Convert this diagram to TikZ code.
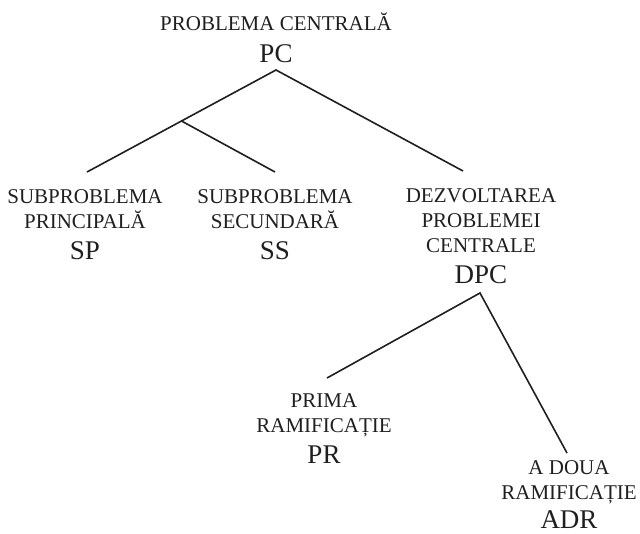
\documentclass[tikz,border=0pt]{standalone}
\usepackage{fontspec}
\setmainfont{Liberation Serif}
\usetikzlibrary{calc}
\begin{document}
\begin{tikzpicture}[x=1pt,y=-1pt,
  lbl/.style={align=center,anchor=north,inner sep=0pt,outer sep=0pt,
    text=black!88,font=\fontsize{21}{25}\selectfont},
  conn/.style={line width=1.6pt,draw=black!88}]
\newcommand\fstrut{\rule{0pt}{22pt}}
\newcommand\bigf{\fontsize{27}{31}\selectfont}
\useasboundingbox (0,0) rectangle (640,533);
% labels
\node[lbl] (pc)  at (276,8)   {\fstrut PROBLEMA CENTRALĂ\\[7pt]{\bigf PC}};
\node[lbl] (sp)  at (85,181)  {\fstrut SUBPROBLEMA\\PRINCIPALĂ\\[6pt]{\bigf SP}};
\node[lbl] (ss)  at (275,181) {\fstrut SUBPROBLEMA\\SECUNDARĂ\\[6pt]{\bigf SS}};
\node[lbl] (dpc) at (481,180) {\fstrut DEZVOLTAREA\\PROBLEMEI\\CENTRALE\\[6pt]{\bigf DPC}};
\node[lbl] (pr)  at (324,385) {\fstrut PRIMA\\RAMIFICAȚIE\\[6pt]{\bigf PR}};
\node[lbl] (adr) at (569,452) {\fstrut A DOUA\\RAMIFICAȚIE\\[4pt]{\bigf ADR}};
% connector end points
\coordinate (apex) at (276,70);
\coordinate (spE)  at (87,172);
\coordinate (ssE)  at (275,172);
\coordinate (dpcE) at (463,171);
\coordinate (junc) at ($(apex)!0.5!(spE)$);
\coordinate (dpcA) at (480,293);
\coordinate (prE)  at (327,378);
\coordinate (adrE) at (567,453);
% connectors
\draw[conn] (spE) -- (apex) -- (dpcE);
\draw[conn] (junc) -- (ssE);
\draw[conn] (prE) -- (dpcA) -- (adrE);
\end{tikzpicture}
\end{document}
